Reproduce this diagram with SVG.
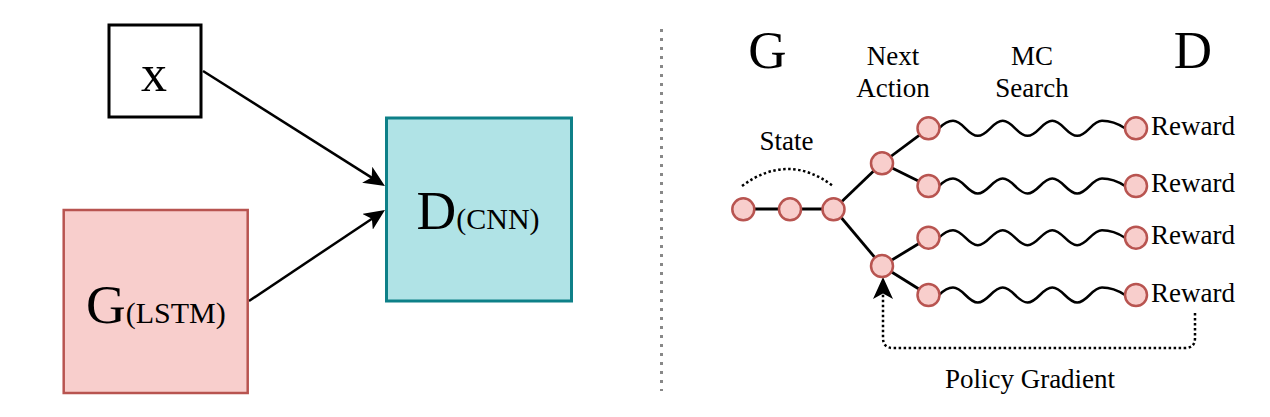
<svg xmlns="http://www.w3.org/2000/svg" width="1270" height="417" viewBox="0 0 1270 417">
<style>
text{font-family:"Liberation Serif","Times New Roman",serif;fill:#000}
.big{font-size:55px}
.sub{font-size:30px}
.hd{font-size:53px;text-anchor:middle}
.lbl{font-size:27px;text-anchor:middle}
.rw{font-size:27px}
.c{fill:#f8cecc;stroke:#b85450;stroke-width:2.5}
.edge{stroke:#000;stroke-width:2.8;fill:none}
.arrow{stroke:#000;stroke-width:2.5;fill:none}
.wave{stroke:#000;stroke-width:2.5;fill:none}
.dot{stroke:#000;stroke-width:2.5;fill:none;stroke-dasharray:2.5 2.5}
</style>
<defs>
<marker id="arr" markerUnits="userSpaceOnUse" viewBox="0 0 21 19" markerWidth="21" markerHeight="19" refX="9" refY="9.5" orient="auto"><path d="M21,9.5 L0,0 L5.25,9.5 L0,19 Z" fill="#000"/></marker>
<marker id="arrBig" markerUnits="userSpaceOnUse" viewBox="0 0 22 20" markerWidth="22" markerHeight="20" refX="10" refY="10" orient="auto"><path d="M22,10 L0,0 L5.5,10 L0,20 Z" fill="#000"/></marker>
<path id="wave" d="M0,0 C4,-4 8,-7.5 14,-7.5 C24,-7.5 28.8,7.5 38.8,7.5 C48.8,7.5 53.7,-7.5 63.7,-7.5 C73.7,-7.5 78.5,7.5 88.5,7.5 C98.5,7.5 103.3,-7.5 113.3,-7.5 C123.3,-7.5 128.2,7.5 138.2,7.5 C148.2,7.5 153,-7.5 163,-7.5 C171,-7.5 180,-4 186,0"/>
</defs>

<!-- Left diagram -->
<g id="connectors-left">
<line class="arrow" x1="203" y1="71" x2="374.8" y2="179.6" marker-end="url(#arr)"/>
<line class="arrow" x1="249" y1="301" x2="375" y2="216.7" marker-end="url(#arr)"/>
</g>
<g id="node-x">
<rect x="109" y="25" width="92" height="92" fill="#fff" stroke="#000" stroke-width="3"/>
<text x="154" y="91" style="font-size:52px" text-anchor="middle">x</text>
</g>
<g id="node-g">
<rect x="63.7" y="210" width="184" height="183" fill="#f8cecc" stroke="#b85450" stroke-width="2.5"/>
<text x="86" y="323"><tspan class="big">G</tspan><tspan class="sub">(LSTM)</tspan></text>
</g>
<g id="node-d">
<rect x="386.5" y="118" width="185" height="183" fill="#b0e3e6" stroke="#0e8088" stroke-width="3"/>
<text x="416.5" y="229"><tspan class="big">D</tspan><tspan class="sub">(CNN)</tspan></text>
</g>

<!-- Separator -->
<line x1="661.5" y1="29" x2="661.5" y2="391" stroke="#888" stroke-width="3" stroke-dasharray="3 6"/>

<!-- Right diagram labels -->
<g id="labels">
<text class="hd" x="767.5" y="68">G</text>
<text class="hd" x="1193" y="68">D</text>
<text class="lbl" x="893" y="65">Next</text>
<text class="lbl" x="893" y="97">Action</text>
<text class="lbl" x="1032" y="65">MC</text>
<text class="lbl" x="1032" y="97">Search</text>
<text class="lbl" x="786.5" y="149.5">State</text>
<text class="lbl" x="1030" y="387.5">Policy Gradient</text>
<text class="rw" x="1151" y="135">Reward</text>
<text class="rw" x="1151" y="192">Reward</text>
<text class="rw" x="1151" y="244">Reward</text>
<text class="rw" x="1151" y="302">Reward</text>
</g>

<g id="connectors-right">
<path class="dot" d="M742,186 Q788,152 833,186"/>
<line class="edge" x1="743" y1="209" x2="834" y2="209"/>
<line class="edge" x1="834" y1="209" x2="882" y2="163"/>
<line class="edge" x1="834" y1="209" x2="882" y2="266"/>
<line class="edge" x1="882" y1="163" x2="928.5" y2="128.3"/>
<line class="edge" x1="882" y1="163" x2="928.5" y2="186"/>
<line class="edge" x1="882" y1="266" x2="928.5" y2="237.7"/>
<line class="edge" x1="882" y1="266" x2="928.5" y2="295"/>
<use href="#wave" class="wave" transform="translate(939,128.3)"/>
<use href="#wave" class="wave" transform="translate(939,186)"/>
<use href="#wave" class="wave" transform="translate(939,237.7)"/>
<use href="#wave" class="wave" transform="translate(939,295)"/>
<path class="dot" d="M1195,313 L1195,338 Q1195,348 1185,348 L893,348 Q883,348 883,338 L883,289" marker-end="url(#arrBig)"/>
</g>

<g id="s1"><circle class="c" cx="743.3" cy="209.3" r="11"/></g>
<g id="s2"><circle class="c" cx="790" cy="209.3" r="11"/></g>
<g id="s3"><circle class="c" cx="833.5" cy="209.3" r="11"/></g>
<g id="a1"><circle class="c" cx="882" cy="163.3" r="11"/></g>
<g id="a2"><circle class="c" cx="882" cy="266" r="11"/></g>
<g id="b1"><circle class="c" cx="928.5" cy="128.3" r="11"/></g>
<g id="b2"><circle class="c" cx="928.5" cy="186" r="11"/></g>
<g id="b3"><circle class="c" cx="928.5" cy="237.7" r="11"/></g>
<g id="b4"><circle class="c" cx="928.5" cy="295" r="11"/></g>
<g id="r1"><circle class="c" cx="1136" cy="128.3" r="11"/></g>
<g id="r2"><circle class="c" cx="1136" cy="186" r="11"/></g>
<g id="r3"><circle class="c" cx="1136" cy="237.7" r="11"/></g>
<g id="r4"><circle class="c" cx="1136" cy="295" r="11"/></g>
</svg>
